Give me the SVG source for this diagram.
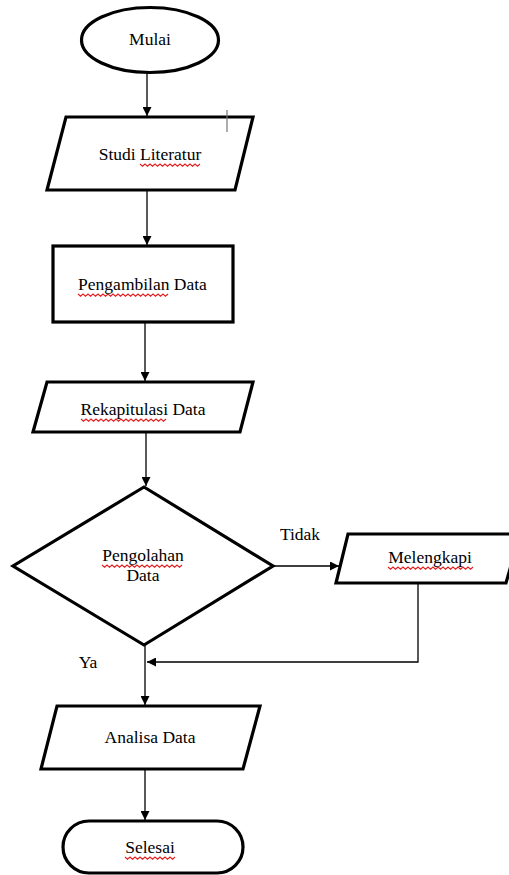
<svg xmlns="http://www.w3.org/2000/svg" width="509" height="875" viewBox="0 0 509 875">
<style>
.shape{fill:#fff;stroke:#000;stroke-width:3.2;stroke-linejoin:miter}
.conn{fill:none;stroke:#000;stroke-width:1.3}
.t{font-family:"Liberation Serif","Times New Roman",serif;font-size:17.5px;fill:#000;text-anchor:middle}
.sq{fill:none;stroke:#e02020;stroke-width:1.1}
</style>
<defs>
<marker id="ah" viewBox="0 0 10 10" refX="10" refY="5" markerWidth="9" markerHeight="9" markerUnits="userSpaceOnUse" orient="auto">
<path d="M0,0 L10,5 L0,10 z" fill="#000"/>
</marker>
<path id="wave" d="M0,0 l2,-2 l2,2 l2,-2 l2,2" />
</defs>
<rect width="509" height="875" fill="#fff"/>
<g id="connectors">
<line class="conn" x1="147" y1="73" x2="147" y2="116" marker-end="url(#ah)"/>
<line class="conn" x1="147" y1="190" x2="147" y2="245" marker-end="url(#ah)"/>
<line class="conn" x1="145" y1="322" x2="145" y2="381" marker-end="url(#ah)"/>
<line class="conn" x1="146" y1="432" x2="146" y2="486" marker-end="url(#ah)"/>
<line class="conn" x1="273" y1="566" x2="339" y2="566" marker-end="url(#ah)"/>
<polyline class="conn" points="418,583 418,662 147,662" marker-end="url(#ah)"/>
<line class="conn" x1="145" y1="645" x2="145" y2="705" marker-end="url(#ah)"/>
<line class="conn" x1="145" y1="769" x2="145" y2="820" marker-end="url(#ah)"/>
</g>
<g id="mulai">
<ellipse class="shape" cx="150" cy="40" rx="68.5" ry="32.5"/>
<text class="t" x="150" y="45">Mulai</text>
</g>
<g id="studi-literatur">
<polygon class="shape" points="66,117 253,117 235,190 47,190"/>
<text class="t" x="150" y="160">Studi Literatur</text>
<path class="sq" d="M140,164 l2.5,2.2 l2.5,-2.2 l2.5,2.2 l2.5,-2.2 l2.5,2.2 l2.5,-2.2 l2.5,2.2 l2.5,-2.2 l2.5,2.2 l2.5,-2.2 l2.5,2.2 l2.5,-2.2 l2.5,2.2 l2.5,-2.2 l2.5,2.2 l2.5,-2.2 l2.5,2.2 l2.5,-2.2 l2.5,2.2 l2.5,-2.2 l2.5,2.2 l2.5,-2.2 l2.5,2.2 l2.5,-2.2"/>
<line x1="227" y1="110" x2="227" y2="132" stroke="#777" stroke-width="1.2"/>
</g>
<g id="pengambilan-data">
<rect class="shape" x="53" y="246" width="180" height="76"/>
<text class="t" x="142.5" y="290">Pengambilan Data</text>
<path class="sq" d="M78,294 l2.5,2.2 l2.5,-2.2 l2.5,2.2 l2.5,-2.2 l2.5,2.2 l2.5,-2.2 l2.5,2.2 l2.5,-2.2 l2.5,2.2 l2.5,-2.2 l2.5,2.2 l2.5,-2.2 l2.5,2.2 l2.5,-2.2 l2.5,2.2 l2.5,-2.2 l2.5,2.2 l2.5,-2.2 l2.5,2.2 l2.5,-2.2 l2.5,2.2 l2.5,-2.2 l2.5,2.2 l2.5,-2.2 l2.5,2.2 l2.5,-2.2 l2.5,2.2 l2.5,-2.2 l2.5,2.2 l2.5,-2.2 l2.5,2.2 l2.5,-2.2 l2.5,2.2 l2.5,-2.2 l2.5,2.2 l2.5,-2.2"/>
</g>
<g id="rekapitulasi-data">
<polygon class="shape" points="47,382 253,382 240,432 33,432"/>
<text class="t" x="143" y="415">Rekapitulasi Data</text>
<path class="sq" d="M81,419 l2.5,2.2 l2.5,-2.2 l2.5,2.2 l2.5,-2.2 l2.5,2.2 l2.5,-2.2 l2.5,2.2 l2.5,-2.2 l2.5,2.2 l2.5,-2.2 l2.5,2.2 l2.5,-2.2 l2.5,2.2 l2.5,-2.2 l2.5,2.2 l2.5,-2.2 l2.5,2.2 l2.5,-2.2 l2.5,2.2 l2.5,-2.2 l2.5,2.2 l2.5,-2.2 l2.5,2.2 l2.5,-2.2 l2.5,2.2 l2.5,-2.2 l2.5,2.2 l2.5,-2.2 l2.5,2.2 l2.5,-2.2 l2.5,2.2 l2.5,-2.2 l2.5,2.2 l2.5,-2.2"/>
</g>
<g id="pengolahan-data">
<polygon class="shape" points="144,487 273,566 144,645 13,566"/>
<text class="t" x="143" y="561">Pengolahan</text>
<text class="t" x="143" y="581">Data</text>
<path class="sq" d="M102,565 l2.5,2.2 l2.5,-2.2 l2.5,2.2 l2.5,-2.2 l2.5,2.2 l2.5,-2.2 l2.5,2.2 l2.5,-2.2 l2.5,2.2 l2.5,-2.2 l2.5,2.2 l2.5,-2.2 l2.5,2.2 l2.5,-2.2 l2.5,2.2 l2.5,-2.2 l2.5,2.2 l2.5,-2.2 l2.5,2.2 l2.5,-2.2 l2.5,2.2 l2.5,-2.2 l2.5,2.2 l2.5,-2.2 l2.5,2.2 l2.5,-2.2 l2.5,2.2 l2.5,-2.2 l2.5,2.2 l2.5,-2.2 l2.5,2.2 l2.5,-2.2"/>
</g>
<g id="melengkapi">
<polygon class="shape" points="348,534 520,534 506,583 336,583"/>
<text class="t" x="430" y="563">Melengkapi</text>
<path class="sq" d="M388,567 l2.5,2.2 l2.5,-2.2 l2.5,2.2 l2.5,-2.2 l2.5,2.2 l2.5,-2.2 l2.5,2.2 l2.5,-2.2 l2.5,2.2 l2.5,-2.2 l2.5,2.2 l2.5,-2.2 l2.5,2.2 l2.5,-2.2 l2.5,2.2 l2.5,-2.2 l2.5,2.2 l2.5,-2.2 l2.5,2.2 l2.5,-2.2 l2.5,2.2 l2.5,-2.2 l2.5,2.2 l2.5,-2.2 l2.5,2.2 l2.5,-2.2 l2.5,2.2 l2.5,-2.2 l2.5,2.2 l2.5,-2.2 l2.5,2.2 l2.5,-2.2 l2.5,2.2 l2.5,-2.2"/>
</g>
<g id="labels">
<text class="t" x="300" y="540">Tidak</text>
<text class="t" x="88" y="668">Ya</text>
</g>
<g id="analisa-data">
<polygon class="shape" points="57,706 260,706 243,769 41,769"/>
<text class="t" x="150" y="743">Analisa Data</text>
</g>
<g id="selesai">
<rect class="shape" x="63" y="821" width="180" height="52" rx="26" ry="26"/>
<text class="t" x="150" y="853">Selesai</text>
<path class="sq" d="M125,857 l2.5,2.2 l2.5,-2.2 l2.5,2.2 l2.5,-2.2 l2.5,2.2 l2.5,-2.2 l2.5,2.2 l2.5,-2.2 l2.5,2.2 l2.5,-2.2 l2.5,2.2 l2.5,-2.2 l2.5,2.2 l2.5,-2.2 l2.5,2.2 l2.5,-2.2 l2.5,2.2 l2.5,-2.2 l2.5,2.2 l2.5,-2.2"/>
</g>
</svg>
